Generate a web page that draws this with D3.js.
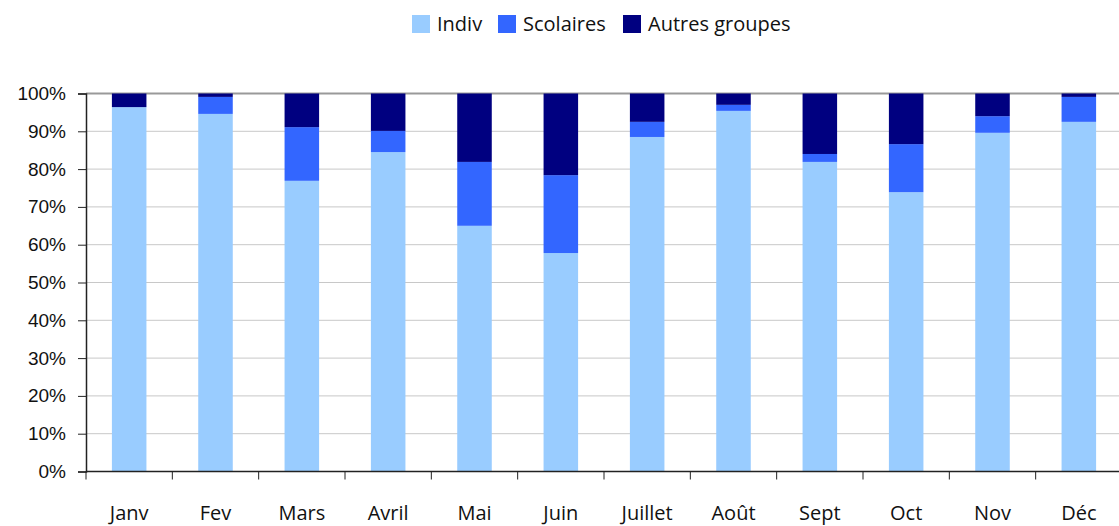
<!DOCTYPE html>
<html>
<head>
<meta charset="utf-8">
<script src="https://cdn.jsdelivr.net/npm/d3@7"></script>
<style>
  body { margin: 0; background: #fff; }
  svg { display: block; font-family: "Open Sans", "Lato", sans-serif; }
</style>
</head>
<body>
<svg id="chart" width="1119" height="526"></svg>
<script>
const months = ["Janv", "Fev", "Mars", "Avril", "Mai", "Juin", "Juillet", "Août", "Sept", "Oct", "Nov", "Déc"];
const indiv = [96.4, 94.6, 76.9, 84.5, 65.0, 57.8, 88.5, 95.4, 81.9, 73.9, 89.6, 92.5];
const scolaires = [0.0, 4.5, 14.2, 5.6, 16.9, 20.6, 4.0, 1.6, 2.1, 12.7, 4.4, 6.6];
const autres = [3.6, 0.9, 8.9, 9.9, 18.1, 21.6, 7.5, 3.0, 16.0, 13.4, 6.0, 0.9];
const seriesNames = ["Indiv", "Scolaires", "Autres groupes"];
const colors = ["#99ccff", "#3366ff", "#000080"];
const yTicks = [0, 10, 20, 30, 40, 50, 60, 70, 80, 90, 100];

const svg = d3.select("#chart");
const plotLeft = 86, plotRight = 1122, plotTop = 93.5, plotBottom = 471.5;

const rows = months.map((m, i) => ({ month: m, Indiv: indiv[i], Scolaires: scolaires[i], "Autres groupes": autres[i] }));
const stacked = d3.stack().keys(seriesNames)(rows);

const x = d3.scaleBand().domain(months).range([plotLeft, plotRight]).paddingInner(0.6).paddingOuter(0.3);
const xb = d3.scaleBand().domain(months).range([plotLeft, plotRight]);
const y = d3.scaleLinear().domain([0, 100]).range([plotBottom, plotTop]);

// gridlines
svg.append("g").selectAll("line").data(yTicks.filter(t => t > 0)).join("line")
    .attr("x1", plotLeft).attr("x2", plotRight)
    .attr("y1", d => y(d)).attr("y2", d => y(d))
    .attr("stroke", d => d === 100 ? "#999" : "#c8c8c8")
    .attr("stroke-width", d => d === 100 ? 2 : 1);

// bars
svg.append("g").selectAll("g").data(stacked).join("g")
    .attr("fill", (d, i) => colors[i])
    .selectAll("rect").data(d => d).join("rect")
    .attr("x", d => x(d.data.month))
    .attr("width", x.bandwidth())
    .attr("y", d => y(d[1]))
    .attr("height", d => y(d[0]) - y(d[1]));

// y axis
const yAxis = svg.append("g").attr("transform", `translate(${plotLeft},0)`)
    .call(d3.axisLeft(y).tickValues(yTicks).tickFormat(d => d + "%").tickSize(8).tickPadding(12));
yAxis.select(".domain").attr("stroke", "#222").attr("stroke-width", 1.5);
yAxis.selectAll(".tick line").attr("stroke", "#222");
yAxis.selectAll("text").attr("font-size", 19).attr("fill", "#111");

// x axis
const xAxis = svg.append("g").attr("transform", `translate(0,${plotBottom})`);
xAxis.append("line").attr("x1", plotLeft).attr("x2", plotRight).attr("stroke", "#222").attr("stroke-width", 1.5);
xAxis.selectAll("line.tk").data(months).join("line").attr("class", "tk")
    .attr("x1", d => xb(d)).attr("x2", d => xb(d))
    .attr("y1", 0).attr("y2", 8).attr("stroke", "#222");
xAxis.selectAll("text").data(months).join("text")
    .attr("x", d => xb(d) + xb.bandwidth() / 2)
    .attr("y", 48)
    .attr("text-anchor", "middle")
    .attr("font-size", 20).attr("fill", "#111")
    .text(d => d);

// legend
const legendX = [412, 498, 623];
const legend = svg.append("g").selectAll("g").data(seriesNames).join("g")
    .attr("transform", (d, i) => `translate(${legendX[i]},15)`);
legend.append("rect").attr("width", 18).attr("height", 18).attr("fill", (d, i) => colors[i]);
legend.append("text").attr("x", 25).attr("y", 16).attr("font-size", 20).attr("fill", "#111").text(d => d);
</script>
</body>
</html>
